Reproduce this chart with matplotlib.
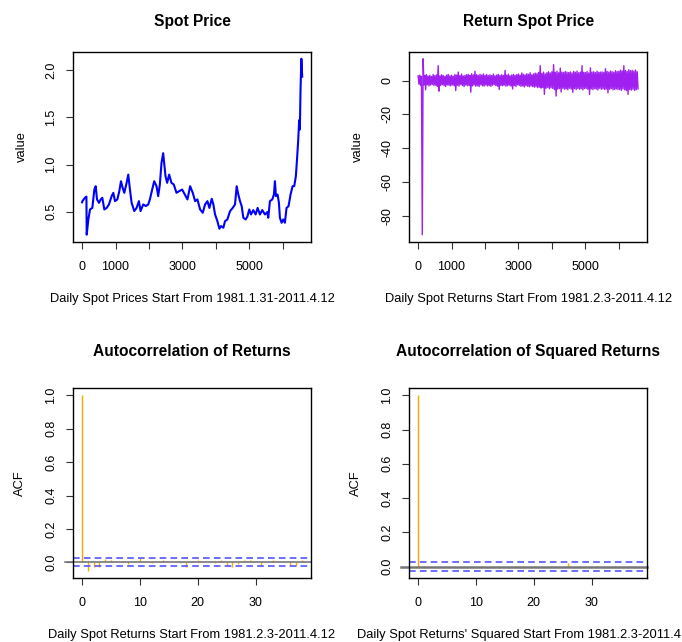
### Spot price, returns and ACF panels in a 2x2 layout ###

import numpy as np
import matplotlib
matplotlib.use("Agg")
import matplotlib.pyplot as plt

plt.rcParams['font.family'] = ['Liberation Sans', 'DejaVu Sans']

# Daily spot price (day index, price)
price_day = [1, 9, 88, 130, 138, 188, 238, 307, 367, 407, 447, 506, 556, 605, 665,
             735, 804, 884, 934, 984, 1054, 1113, 1163, 1213, 1262, 1332, 1381,
             1431, 1481, 1560, 1629, 1699, 1748, 1828, 1907, 1977, 2027, 2096,
             2156, 2226, 2275, 2325, 2374, 2424, 2454, 2494, 2543, 2603, 2672,
             2742, 2822, 2901, 2991, 3070, 3150, 3230, 3309, 3379, 3448, 3528,
             3607, 3677, 3747, 3806, 3876, 3925, 3975, 4045, 4104, 4154, 4224,
             4273, 4343, 4423, 4502, 4572, 4621, 4671, 4721, 4771, 4820, 4890,
             4940, 4999, 5049, 5118, 5188, 5247, 5317, 5387, 5466, 5536, 5566,
             5615, 5685, 5735, 5765, 5795, 5844, 5884, 5914, 5964, 6013, 6063,
             6112, 6172, 6232, 6292, 6341, 6391, 6431, 6461, 6490, 6510, 6530,
             6555, 6580]
price_val = [0.60, 0.612, 0.648, 0.66, 0.257, 0.419, 0.524, 0.54, 0.735, 0.77,
             0.63, 0.594, 0.63, 0.648, 0.524, 0.54, 0.577, 0.665, 0.70, 0.612,
             0.63, 0.717, 0.823, 0.753, 0.70, 0.806, 0.893, 0.735, 0.594, 0.507,
             0.54, 0.612, 0.507, 0.577, 0.56, 0.577, 0.63, 0.735, 0.823, 0.77,
             0.665, 0.788, 1.016, 1.12, 1.016, 0.876, 0.806, 0.893, 0.806, 0.788,
             0.70, 0.717, 0.735, 0.683, 0.63, 0.77, 0.70, 0.612, 0.63, 0.524,
             0.489, 0.577, 0.612, 0.54, 0.637, 0.577, 0.471, 0.40, 0.32, 0.348,
             0.331, 0.40, 0.418, 0.506, 0.54, 0.577, 0.77, 0.682, 0.612, 0.559,
             0.436, 0.418, 0.447, 0.524, 0.471, 0.517, 0.471, 0.54, 0.471, 0.517,
             0.471, 0.496, 0.436, 0.612, 0.63, 0.682, 0.823, 0.665, 0.682, 0.594,
             0.436, 0.383, 0.418, 0.383, 0.54, 0.559, 0.682, 0.77, 0.77, 0.876,
             1.087, 1.26, 1.47, 1.37, 1.79, 2.12, 1.93]

# Daily returns (%), highs and lows of each 50-day block
ret_hi = [2.8, 3.2, 2.5, 12.9, 3.0, 3.5, 2.6, 3.1, 2.4, 3.6,
          2.9, 3.3, 8.8, 2.7, 3.4, 3.0, 2.5, 3.2, 3.6, 2.8,
          3.1, 2.6, 3.6, 3.2, 5.0, 2.9, 3.8, 2.7, 3.1, 3.4,
          3.6, 3.0, 4.0, 3.3, 5.5, 3.5, 3.1, 3.7, 3.2, 3.9,
          3.1, 3.6, 2.9, 3.4, 3.0, 3.8, 2.8, 3.3, 3.7, 3.0,
          3.4, 3.0, 6.0, 3.2, 3.7, 2.8, 3.3, 3.6, 3.1, 3.5,
          3.8, 3.2, 4.5, 3.6, 3.3, 4.0, 3.7, 4.6, 3.4, 3.9,
          4.4, 4.0, 4.8, 8.8, 4.2, 5.0, 3.9, 4.6, 5.2, 4.5,
          5.2, 9.4, 4.9, 5.5, 4.6, 7.4, 5.0, 4.8, 5.3, 5.0,
          4.7, 5.1, 4.5, 5.4, 4.9, 5.6, 4.6, 5.0, 8.8, 4.9,
          4.8, 5.3, 4.5, 7.5, 5.0, 5.2, 4.7, 5.5, 4.9, 5.0,
          5.1, 4.8, 7.0, 5.4, 5.0, 5.6, 5.2, 4.9, 5.8, 5.3,
          5.5, 6.1, 5.7, 8.8, 5.9, 5.4, 6.4, 5.8, 6.0, 5.6, 6.2, 5.2]
ret_lo = [-2.2, -2.9, -91.3, -2.6, -5.5, -2.5, -3.2, -2.7, -2.3, -3.0,
          -2.7, -3.4, -6.3, -3.0, -2.5, -3.1, -3.5, -2.6, -2.9, -3.2,
          -2.6, -3.1, -6.0, -2.8, -3.3, -2.4, -3.0, -3.6, -2.7, -3.1,
          -2.9, -6.9, -3.2, -2.7, -3.4, -3.1, -3.6, -2.6, -3.1, -3.3,
          -2.7, -3.2, -3.0, -3.5, -2.8, -2.5, -3.1, -3.4, -5.3, -2.9,
          -3.1, -2.7, -3.4, -3.1, -2.8, -3.3, -5.0, -3.0, -3.6, -2.6,
          -2.9, -3.5, -3.2, -3.8, -3.1, -3.4, -3.7, -3.2, -3.6, -3.9,
          -3.7, -4.2, -3.9, -4.5, -4.1, -8.2, -4.6, -4.1, -4.9, -4.3,
          -4.7, -5.4, -9.2, -5.1, -4.8, -6.8, -4.6, -5.2, -5.0, -5.5,
          -4.6, -5.1, -7.0, -4.8, -5.3, -4.7, -5.2, -4.9, -5.6, -4.7,
          -4.7, -5.2, -8.2, -5.0, -5.4, -4.8, -5.1, -5.6, -4.6, -5.2,
          -4.9, -5.3, -5.1, -7.3, -5.2, -4.8, -5.5, -5.3, -5.0, -5.4,
          -5.3, -5.8, -5.0, -5.5, -6.0, -8.2, -5.4, -5.7, -5.2, -5.9, -5.4, -4.9]
n_ret = 6579

# Sample ACF, lags 0..38
acf_ret = [1.0, -0.05, -0.025, -0.028, 0.02, 0.014, 0.001, 0.005, -0.012, 0.01,
           0.028, 0.003, -0.005, 0.004, 0.016, 0.002, 0.003, -0.005, -0.03, 0.008,
           0.012, 0.002, 0.003, -0.006, 0.014, -0.022, -0.03, -0.01, 0.012, 0.014,
           0.002, -0.02, 0.004, 0.012, 0.002, 0.003, -0.018, -0.022, 0.016]
acf_sq = [1.0, 0.001, 0.0, 0.001, 0.0, 0.001, 0.0, 0.0, 0.001, 0.0,
          0.0, 0.001, 0.0, 0.0, 0.001, 0.0, 0.0, 0.001, 0.0, 0.0,
          0.001, 0.0, 0.0, 0.001, 0.0, 0.0, 0.02, 0.0, 0.001, 0.0,
          0.0, 0.001, 0.0, 0.0, 0.001, 0.0, 0.0, 0.001, 0.0]

titles = ["Spot Price", "Return Spot Price",
          "Autocorrelation of Returns", "Autocorrelation of Squared Returns"]
sub_labels = ["Daily Spot Prices Start From 1981.1.31-2011.4.12",
              "Daily Spot Returns Start From 1981.2.3-2011.4.12",
              "Daily Spot Returns Start From 1981.2.3-2011.4.12",
              "Daily Spot Returns' Squared Start From 1981.2.3-2011.4.12"]

W, H = 682, 642
fig = plt.figure(figsize=(W / 100, H / 100), dpi=100)

# plot boxes in pixels: left, top, width, height
boxes = [(73.3, 51.7, 237.7, 190.0), (409.3, 51.7, 237.7, 190.0),
         (73.3, 388.3, 237.4, 189.4), (409.3, 388.3, 237.4, 189.4)]
axes = []
for (l, t, w, h) in boxes:
    axes.append(fig.add_axes([l / W, 1 - (t + h) / H, w / W, h / H]))


def r_range(lo, hi):
    # R style 4% padding
    d = (hi - lo) * 0.04
    return lo - d, hi + d


def style(ax, box, title, sub, ylab, title_off, ylab_off):
    h = box[3]
    for s in ax.spines.values():
        s.set_linewidth(1.0)
        s.set_color('black')
    ax.tick_params(direction='out', length=5.2, width=0.8, labelsize=9.0,
                   color='#333333')
    ax.tick_params(axis='x', pad=8.5)
    ax.tick_params(axis='y', pad=6.5)
    for lab in ax.get_yticklabels():
        lab.set_rotation(90)
        lab.set_va('center')
    ax.text(0.5, 1 + title_off / h, title, transform=ax.transAxes,
            ha='center', va='baseline', fontsize=11.2, fontweight='bold')
    ax.text(0.5, -60 / h, sub, transform=ax.transAxes, ha='center',
            va='baseline', fontsize=9.3, clip_on=False)
    ax.text(-ylab_off / box[2], 0.5, ylab, transform=ax.transAxes,
            rotation=90, rotation_mode='anchor', ha='center', va='baseline',
            fontsize=9.3)


xlim_days = r_range(1, n_ret + 1)
day_ticks = [0, 1000, 2000, 3000, 4000, 5000, 6000]
day_labels = ['0', '1000', '', '3000', '', '5000', '']

# Spot price
ax = axes[0]
ax.plot(price_day, price_val, color='blue', lw=1.5)
ax.set_xlim(*xlim_days)
ax.set_ylim(*r_range(min(price_val), max(price_val)))
ax.set_xticks(day_ticks, day_labels)
ax.set_yticks([0.5, 1.0, 1.5, 2.0], ['0.5', '1.0', '1.5', '2.0'])
style(ax, boxes[0], titles[0], sub_labels[0], 'value', 26, 48)

# Returns
ret_vals = np.ravel(np.column_stack([ret_hi, ret_lo]))
ret_day = 1 + np.arange(len(ret_vals)) * 25
ax = axes[1]
ax.plot(ret_day, ret_vals, color='#A020F0', lw=1.0)
ax.set_xlim(*xlim_days)
ax.set_ylim(*r_range(ret_vals.min(), ret_vals.max()))
ax.set_xticks(day_ticks, day_labels)
ax.set_yticks([-80, -60, -40, -20, 0], ['-80', '-60', '-40', '-20', '0'])
style(ax, boxes[1], titles[1], sub_labels[1], 'value', 26, 48)

# ACF panels
clim = 1.96 / np.sqrt(n_ret)
for i, acf in [(2, acf_ret), (3, acf_sq)]:
    ax = axes[i]
    lags = np.arange(len(acf))
    ax.vlines(lags, 0, acf, color='#FFA500', lw=1.0)
    ax.axhline(0, xmin=-8 / boxes[i][2], xmax=1, color='#777777',
               lw=1.2 if i == 2 else 1.8, clip_on=False)
    for c in (clim, -clim):
        ax.axhline(c, color='#5555FF', lw=1.2, ls=(0, (4, 2.5)))
    ax.set_xlim(*r_range(0, len(acf) - 1))
    ax.set_ylim(*r_range(min(min(acf), -clim), max(max(acf), clim)))
    ax.set_xticks([0, 10, 20, 30], ['0', '10', '20', '30'])
    ax.set_yticks([0.0, 0.2, 0.4, 0.6, 0.8, 1.0],
                  ['0.0', '0.2', '0.4', '0.6', '0.8', '1.0'])
    style(ax, boxes[i], titles[i], sub_labels[i], 'ACF', 32.5, 50)

plt.savefig('out.png', dpi=100)
